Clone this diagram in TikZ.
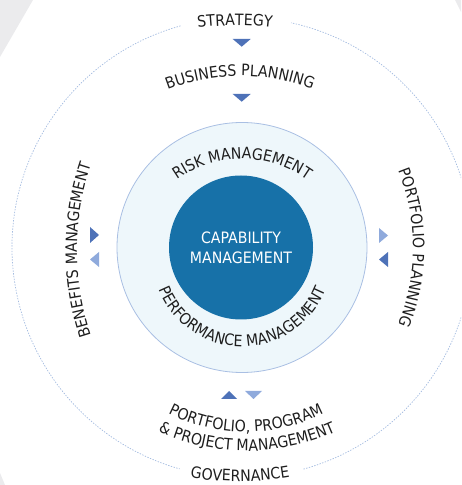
\documentclass[tikz,border=0pt]{standalone}
\usepackage{fontspec}
\setmainfont{DejaVu Sans}[FakeStretch=0.9]
\usetikzlibrary{decorations.text}
\definecolor{grayback}{HTML}{EBEBED}
\definecolor{dashblue}{HTML}{A4BCE0}
\definecolor{ringfill}{HTML}{EEF7FB}
\definecolor{ringdraw}{HTML}{A9BFE3}
\definecolor{corefill}{HTML}{1771A8}
\definecolor{tridark}{HTML}{4E72B8}
\definecolor{trilight}{HTML}{8FAADC}
\definecolor{txt}{HTML}{1E1E1E}
\newcommand\lblfont{\fontsize{15.7pt}{20pt}\selectfont}
\tikzset{
  curvetext/.style={decorate, decoration={text along path, text={|\lblfont|#1}, text align=center, text color=txt}},
  dashring/.style={draw=dashblue, line width=0.7pt, dash pattern=on 1.4pt off 1.4pt},
  darktri/.style={fill=tridark},
  lighttri/.style={fill=trilight},
  cornerfill/.style={fill=grayback}
}
\begin{document}
\begin{tikzpicture}[x=1pt,y=1pt]
\useasboundingbox (0,0) rectangle (461,485);
\clip (0,0) rectangle (461,485);
% background corners
\fill[cornerfill] (0,485) -- (33,485) -- (0,428) -- cycle;
\fill[cornerfill] (455,485) -- (461,485) -- (461,473) -- cycle;
\fill[cornerfill] (0,12) -- (0,0) -- (5,0) -- cycle;
% centre
\coordinate (C) at (242,237.5);
% dashed outer ring
\draw[dashring] (C) ++(105.5:230) arc[start angle=105.5, end angle=254.3, radius=230];
\draw[dashring] (C) ++(-74.5:230) arc[start angle=-74.5, end angle=77.7, radius=230];
% rings
\node[circle, minimum size=250pt, inner sep=0pt, fill=ringfill, draw=ringdraw, line width=0.8pt] (ring) at (C) {};
\node[circle, minimum size=144pt, inner sep=0pt, fill=corefill, text=white, align=center, font=\lblfont] (core) at (241,237.5) {CAPABILITY\\MANAGEMENT};
% triangles
\fill[darktri] (232.7,446) -- (250.7,446) -- (241.7,438.3) -- cycle;
\fill[darktri] (232.7,391) -- (250.7,391) -- (241.7,383.3) -- cycle;
\fill[darktri] (90,258) -- (90,242) -- (99,250) -- cycle;
\fill[lighttri] (99,233) -- (99,218) -- (90,225.5) -- cycle;
\fill[lighttri] (379,257) -- (379,242) -- (388,249.5) -- cycle;
\fill[darktri] (388,233) -- (388,218) -- (379,225.5) -- cycle;
\fill[darktri] (221,86) -- (237,86) -- (229,94) -- cycle;
\fill[lighttri] (245,94) -- (262,94) -- (253.5,86) -- cycle;
% curved labels
\coordinate (cStr) at (235,159.5);
\path[curvetext={STRATEGY}] (cStr) ++(110:300) arc[start angle=110, end angle=70, radius=300];
\coordinate (cBus) at (240,209);
\path[curvetext={BUSINESS PLANNING}] (cBus) ++(122:200) arc[start angle=122, end angle=58, radius=200];
\coordinate (cRisk) at (242,214);
\path[curvetext={RISK MANAGEMENT}] (cRisk) ++(135:112) arc[start angle=135, end angle=45, radius=112];
\coordinate (cPerf) at (242,228.5);
\path[curvetext={PERFORMANCE MANAGEMENT}] (cPerf) ++(190:90) arc[start angle=190, end angle=350, radius=90];
\coordinate (cPpp) at (246,224);
\path[curvetext={PORTFOLIO, PROGRAM}] (cPpp) ++(235:171) arc[start angle=235, end angle=305, radius=171];
\coordinate (cPpm) at (247,250);
\path[curvetext={{\&} PROJECT MANAGEMENT}] (cPpm) ++(240:216) arc[start angle=240, end angle=300, radius=216];
\coordinate (cGov) at (240,303.5);
\path[curvetext={GOVERNANCE}] (cGov) ++(255:300) arc[start angle=255, end angle=285, radius=300];
\coordinate (cBen) at (348,235);
\path[curvetext={BENEFITS MANAGEMENT}] (cBen) ++(205:271) arc[start angle=205, end angle=155, radius=271];
\coordinate (cPort) at (207,237.5);
\path[curvetext={PORTFOLIO PLANNING}] (cPort) ++(30:206) arc[start angle=30, end angle=-30, radius=206];
\end{tikzpicture}
\end{document}
